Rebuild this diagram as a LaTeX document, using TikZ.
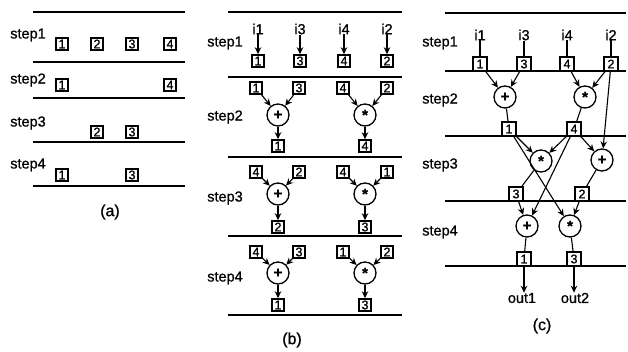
\documentclass[tikz,border=0pt]{standalone}
\usepackage{fontspec}
\setmainfont[FakeBold=0.9]{Liberation Sans}
\usetikzlibrary{arrows.meta}

\begin{document}
\begin{tikzpicture}[x=1pt,y=-1pt,
  lbl/.style={font=\fontsize{14.5}{14.5}\selectfont, inner sep=0},
  captxt/.style={font=\fontsize{16}{16}\selectfont, inner sep=0},
  reg/.style={draw, line width=1.6pt, minimum width=12pt, minimum height=12pt,
              inner sep=0, font=\fontsize{12.5}{12.5}\selectfont},
  regc/.style={reg, minimum width=14pt, minimum height=14pt, line width=1.2pt},
  op/.style={draw, circle, line width=1.3pt, minimum size=22pt, inner sep=0,
             font=\fontsize{15}{15}\selectfont\bfseries},
  rule/.style={line width=2pt},
  arr/.style={-{Stealth[length=7pt,width=6.5pt]}, line width=1.1pt},
  wire/.style={line width=1.1pt}
]
\useasboundingbox (0,0) rectangle (628,352);
\newcommand{\plusop}{+}
\newcommand{\mulop}{\raisebox{-0.3em}{*}}

% ---------------- (a) register occupancy per step ----------------
\foreach \y in {12,62,98,142,186} \draw[rule] (33,\y) -- (185,\y);
\node[lbl] (aS1) at (28,35) {step1};
\node[lbl] (aS2) at (28,80) {step2};
\node[lbl] (aS3) at (28,123) {step3};
\node[lbl] (aS4) at (28,165) {step4};
\node[reg] (a11) at (62,44) {1};
\node[reg] (a12) at (97,44) {2};
\node[reg] (a13) at (132,44) {3};
\node[reg] (a14) at (170,44) {4};
\node[reg] (a21) at (62,85) {1};
\node[reg] (a24) at (170,85) {4};
\node[reg] (a32) at (97,132) {2};
\node[reg] (a33) at (132,132) {3};
\node[reg] (a41) at (62,175) {1};
\node[reg] (a43) at (132,175) {3};
\node[captxt] (capa) at (110,212) {(a)};

% ---------------- (b) operations per step ----------------
\foreach \y in {12,77,157,236,315} \draw[rule] (228,\y) -- (402,\y);
\node[lbl] (bS1) at (225,43) {step1};
\node[lbl] (bS2) at (225,117) {step2};
\node[lbl] (bS3) at (225,198) {step3};
\node[lbl] (bS4) at (225,278) {step4};
% step1: loading inputs
\node[lbl] (bi1) at (258,29) {i1};
\node[lbl] (bi3) at (300,29) {i3};
\node[lbl] (bi4) at (344,29) {i4};
\node[lbl] (bi2) at (387,29) {i2};
\node[reg] (b1a) at (258,61) {1};
\node[reg] (b1b) at (300,61) {3};
\node[reg] (b1c) at (344,61) {4};
\node[reg] (b1d) at (387,61) {2};
\draw[arr] (bi1) -- (b1a);
\draw[arr] (bi3) -- (b1b);
\draw[arr] (bi4) -- (b1c);
\draw[arr] (bi2) -- (b1d);
% step2
\node[reg] (b2a) at (256,88) {1};
\node[reg] (b2b) at (299,88) {3};
\node[op]  (b2p) at (278,115) {\plusop};
\node[reg] (b2r) at (278,146) {1};
\node[reg] (b2c) at (343,88) {4};
\node[reg] (b2d) at (387,88) {2};
\node[op]  (b2m) at (365,115) {\mulop};
\node[reg] (b2s) at (365,146) {4};
% step3
\node[reg] (b3a) at (256,172) {4};
\node[reg] (b3b) at (299,172) {2};
\node[op]  (b3p) at (278,194) {\plusop};
\node[reg] (b3r) at (278,227) {2};
\node[reg] (b3c) at (343,172) {4};
\node[reg] (b3d) at (387,172) {1};
\node[op]  (b3m) at (365,194) {\mulop};
\node[reg] (b3s) at (365,227) {3};
% step4
\node[reg] (b4a) at (256,252) {4};
\node[reg] (b4b) at (299,252) {3};
\node[op]  (b4p) at (278,273) {\plusop};
\node[reg] (b4r) at (278,305) {1};
\node[reg] (b4c) at (343,252) {1};
\node[reg] (b4d) at (387,252) {2};
\node[op]  (b4m) at (365,273) {\mulop};
\node[reg] (b4s) at (365,305) {3};
\foreach \s in {2,3,4}{
  \draw[arr] (b\s a) -- (b\s p);
  \draw[arr] (b\s b) -- (b\s p);
  \draw[arr] (b\s p) -- (b\s r);
  \draw[arr] (b\s c) -- (b\s m);
  \draw[arr] (b\s d) -- (b\s m);
  \draw[arr] (b\s m) -- (b\s s);
}
\node[captxt] (capb) at (292,340) {(b)};

% ---------------- (c) scheduled data path ----------------
\foreach \y in {13,71,136,201,266} \draw[rule] (445,\y) -- (626,\y);
\node[lbl] (cS1) at (440,43) {step1};
\node[lbl] (cS2) at (440,100) {step2};
\node[lbl] (cS3) at (440,165) {step3};
\node[lbl] (cS4) at (440,232) {step4};
\node[lbl] (ci1) at (480,35) {i1};
\node[lbl] (ci3) at (524,35) {i3};
\node[lbl] (ci4) at (567,35) {i4};
\node[lbl] (ci2) at (611,35) {i2};
\node[regc] (c1a) at (480,64) {1};
\node[regc] (c1b) at (524,64) {3};
\node[regc] (c1c) at (567,64) {4};
\node[regc] (c1d) at (611,64) {2};
\draw[wire] (ci1) -- (c1a);
\draw[wire] (ci3) -- (c1b);
\draw[wire] (ci4) -- (c1c);
\draw[wire] (ci2) -- (c1d);
% step2
\node[op]   (c2p) at (505,97) {\plusop};
\node[op]   (c2m) at (585,97) {\mulop};
\node[regc] (c2a) at (509,129) {1};
\node[regc] (c2b) at (574,129) {4};
\draw[arr] (c1a) -- (c2p);
\draw[arr] (c1b) -- (c2p);
\draw[arr] (c1c) -- (c2m);
\draw[arr] (c1d) -- (c2m);
\draw[wire] (c2p) -- (c2a);
\draw[wire] (c2m) -- (c2b);
% step3
\node[op]   (c3m) at (541,161) {\mulop};
\node[op]   (c3p) at (602,160) {\plusop};
\node[regc] (c3a) at (516,194) {3};
\node[regc] (c3b) at (582,194) {2};
\draw[arr] (c2a) -- (c3m);
\draw[arr] (c2b) -- (c3m);
\draw[arr] (c2b) -- (c3p);
\draw[arr] (c1d) -- (c3p);
\draw[wire] (c3m) -- (c3a);
\draw[wire] (c3p) -- (c3b);
% step4
\node[op]   (c4p) at (527,226) {\plusop};
\node[op]   (c4m) at (570,226) {\mulop};
\node[regc] (c4a) at (524,259) {1};
\node[regc] (c4b) at (574,259) {3};
\draw[arr] (c3a) -- (c4p);
\draw[arr] (c2b) -- (c4p);
\draw[arr] (c2a) -- (c4m);
\draw[arr] (c3b) -- (c4m);
\draw[wire] (c4p) -- (c4a);
\draw[wire] (c4m) -- (c4b);
% outputs
\node[lbl] (co1) at (522,298) {out1};
\node[lbl] (co2) at (575,298) {out2};
\draw[arr] (c4a) -- (c4a |- co1.north);
\draw[arr] (c4b) -- (c4b |- co2.north);
\node[captxt] (capc) at (542,326) {(c)};
\end{tikzpicture}
\end{document}
